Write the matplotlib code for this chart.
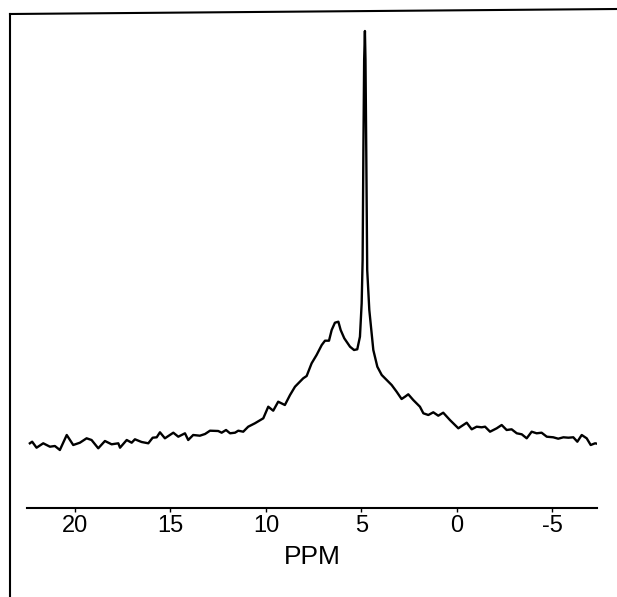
import matplotlib
matplotlib.use("Agg")
import matplotlib.pyplot as plt
from matplotlib.lines import Line2D

plt.rcParams['axes.unicode_minus'] = False

# chemical shift (ppm) and signal height (arbitrary units)
ppm = [22.36, 22.24, 22.01, 21.66, 21.31, 21.05, 20.79, 20.43, 20.09, 19.74,
       19.39, 19.13, 18.78, 18.43, 18.08, 17.73, 17.64, 17.29, 17.03, 16.86,
       16.51, 16.16, 15.93, 15.72, 15.55, 15.29, 14.85, 14.59, 14.24, 14.07,
       13.81, 13.46, 13.19, 12.93, 12.50, 12.32, 12.09, 11.88, 11.62, 11.45,
       11.19, 10.93, 10.58, 10.14, 9.88, 9.62, 9.36, 9.01, 8.74, 8.48,
       8.05, 7.87, 7.61, 7.35, 7.08, 6.91, 6.70, 6.56, 6.39, 6.21,
       6.09, 5.90, 5.60, 5.39, 5.22, 5.08, 4.99, 4.94, 4.90, 4.86,
       4.82, 4.79, 4.75, 4.70, 4.59, 4.38, 4.17, 3.94, 3.68, 3.42,
       3.16, 2.90, 2.72, 2.55, 2.29, 1.94, 1.76, 1.50, 1.24, 0.98,
       0.72, 0.37, -0.07, -0.51, -0.77, -1.03, -1.29, -1.47, -1.73, -2.08,
       -2.34, -2.60, -2.86, -3.13, -3.39, -3.65, -3.91, -4.17, -4.43, -4.70,
       -5.04, -5.30, -5.57, -5.83, -6.09, -6.30, -6.53, -6.79, -7.00, -7.23,
       -7.40]
signal = [64.7, 66.3, 60.3, 64.7, 61.3, 62.0, 58.0, 73.0, 63.0, 65.3,
          69.7, 68.0, 59.7, 67.0, 63.7, 64.7, 60.3, 68.0, 65.3, 68.7,
          66.0, 64.7, 70.3, 70.7, 75.7, 69.7, 75.3, 71.3, 74.7, 68.0,
          73.0, 72.3, 74.0, 77.3, 77.0, 75.3, 78.0, 74.7, 75.3, 77.3,
          76.3, 81.3, 84.7, 89.7, 101.3, 97.3, 106.3, 103.0, 113.0, 121.3,
          129.7, 132.0, 144.7, 153.0, 163.0, 167.3, 167.3, 178.0, 185.3, 186.3,
          178.0, 169.7, 161.3, 158.0, 158.7, 171.3, 204.7, 248.0, 358.0, 448.0,
          477.0, 448.0, 358.0, 238.0, 198.0, 158.0, 141.3, 133.0, 128.0, 123.0,
          116.3, 109.0, 111.3, 113.7, 108.0, 101.3, 94.7, 93.0, 95.7, 92.3,
          95.3, 88.0, 79.7, 85.3, 78.7, 81.3, 80.7, 81.3, 76.3, 79.7,
          83.0, 78.0, 78.7, 74.7, 73.7, 69.7, 76.3, 74.7, 75.3, 71.3,
          70.7, 69.3, 70.7, 70.3, 70.7, 66.3, 73.0, 69.7, 63.0, 64.7,
          64.0]
tick_pos = [20, 15, 10, 5, 0, -5]
tick_lab = ['20', '15', '10', '5', '0', '-5']

W, H = 617, 597
fig = plt.figure(figsize=(W / 100, H / 100), dpi=100)
ax = fig.add_axes([27 / W, 89 / H, 570 / W, 488 / H])

ax.plot(ppm, signal, color='black', lw=1.7, solid_joinstyle='round')
ax.set_xlim(22.51, -7.33)
ax.set_ylim(0, 488)

for s in ['top', 'left', 'right']:
    ax.spines[s].set_visible(False)
ax.spines['bottom'].set_linewidth(1.5)
ax.set_yticks([])
ax.set_xticks(tick_pos)
ax.set_xticklabels(tick_lab, fontsize=17, family='Liberation Sans')
ax.tick_params(axis='x', direction='out', length=3, width=1, pad=2)
ax.set_xlabel('PPM', fontsize=19, family='Liberation Sans', labelpad=6)

# frame of the scanned page
fig.add_artist(Line2D([10 / W, 10 / W], [1 - 14 / H, 0], color='black', lw=1.5))
fig.add_artist(Line2D([10 / W, 1], [1 - 14 / H, 1 - 9 / H], color='black', lw=1.5))

fig.savefig('out.png', dpi=100)
